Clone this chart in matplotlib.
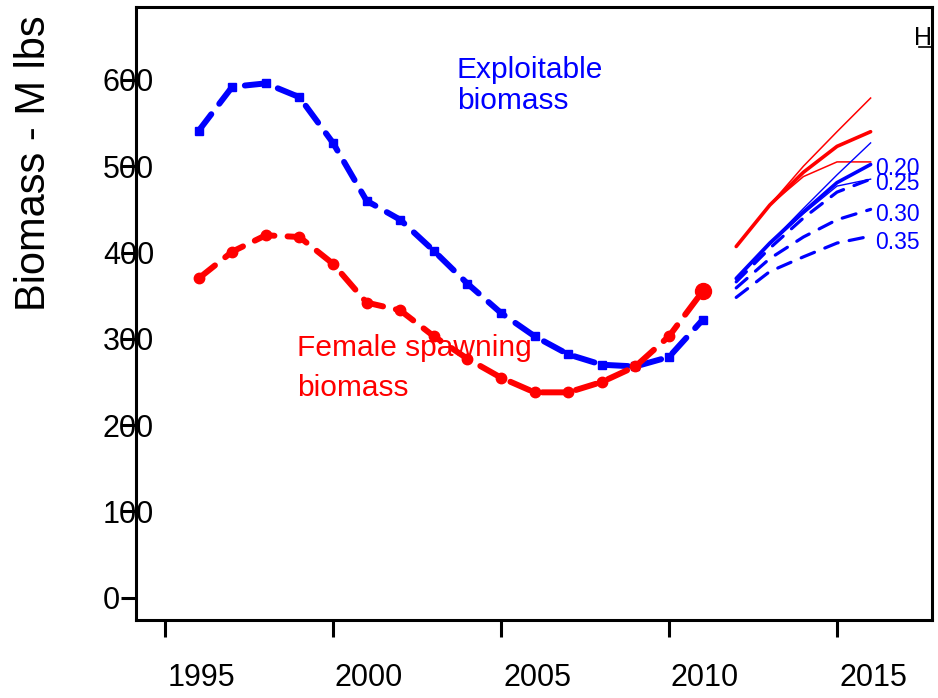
import matplotlib
matplotlib.use("Agg")
import matplotlib.pyplot as plt
from matplotlib.transforms import ScaledTranslation

plt.rcParams['font.family'] = ['Liberation Sans', 'DejaVu Sans']

# historical estimates
years = [1996, 1997, 1998, 1999, 2000, 2001, 2002, 2003, 2004, 2005,
         2006, 2007, 2008, 2009, 2010, 2011]
exploitable = [541, 592, 596, 580, 527, 460, 438, 402, 364, 330,
               303, 282, 270, 268, 279, 322]
female_ssb = [370, 401, 420, 418, 387, 342, 333, 303, 277, 255,
              238, 238, 250, 268, 303, 355]

# projections
proj_years = [2012, 2013, 2014, 2015, 2016]
red_thick = [407, 455, 493, 523, 540]
red_thin_hi = [407, 455, 500, 540, 579]
red_thin_lo = [407, 455, 488, 505, 505]
blue_thick = [370, 411, 447, 481, 502]
blue_thin_hi = [370, 411, 451, 490, 527]
blue_thin_lo = [368, 409, 445, 477, 485]
blue_dash_25 = [366, 405, 440, 470, 485]
blue_dash_30 = [359, 393, 418, 438, 450]
blue_dash_35 = [348, 378, 395, 411, 419]

rate_labels = ["0.20", "0.25", "0.30", "0.35"]
rate_ypos = [0.726, 0.701, 0.651, 0.605]

xticks = [1995, 2000, 2005, 2010, 2015]
yticks = [0, 100, 200, 300, 400, 500, 600]

fig = plt.figure(figsize=(9.38, 6.98), dpi=100)
ax = fig.add_axes([0.145, 0.1117, 0.8486, 0.8783])

# exploitable biomass
ax.plot(years, exploitable, color='blue', lw=4.3, dashes=(3.5, 2.2),
        dash_capstyle='round', marker='s', ms=6, mec='blue', mfc='blue',
        zorder=3)
# female spawning biomass (drawn over the blue one)
ax.plot(years, female_ssb, color='red', lw=4.3, dashes=(3.5, 2.2),
        dash_capstyle='round', marker='o', ms=7.5, mec='red', mfc='red',
        zorder=4)
ax.plot(years[-1], female_ssb[-1], 'o', color='red', ms=11.5, zorder=5)

# projections
ax.plot(proj_years, red_thin_hi, color='red', lw=1.1)
ax.plot(proj_years, red_thin_lo, color='red', lw=1.1)
ax.plot(proj_years, red_thick, color='red', lw=2.6, solid_capstyle='round')
ax.plot(proj_years, blue_thin_hi, color='blue', lw=1.0)
ax.plot(proj_years, blue_thin_lo, color='blue', lw=1.0)
ax.plot(proj_years, blue_thick, color='blue', lw=2.6, solid_capstyle='round')
for s in (blue_dash_25, blue_dash_30, blue_dash_35):
    ax.plot(proj_years, s, color='blue', lw=2.3, dashes=(4.5, 3.5),
            dash_capstyle='round')

for lab, yp in zip(rate_labels, rate_ypos):
    ax.text(0.928, yp, lab, transform=ax.transAxes, color='blue',
            fontsize=16.5, va='baseline', ha='left')

ax.text(0.403, 0.920, "Exploitable\nbiomass", transform=ax.transAxes,
        color='blue', fontsize=21.5, va='top', ha='left', linespacing=1.13)
ax.text(0.2023, 0.4665, "Female spawning\nbiomass", transform=ax.transAxes,
        color='red', fontsize=21.5, va='top', ha='left', linespacing=1.55)

ax.text(0.977, 0.938, "H", transform=ax.transAxes, color='black',
        fontsize=18, va='baseline', ha='left', clip_on=True)
ax.plot([0.984, 1.0], [0.934, 0.934], transform=ax.transAxes, color='black',
        lw=1.2, clip_on=True)

ax.set_xlim(1994.137, 2017.827)
ax.set_ylim(-25.8, 684.5)
ax.set_xticks(xticks)
ax.set_yticks(yticks)
ax.set_xticklabels([str(v) for v in xticks])
ax.set_yticklabels([str(v) for v in yticks])

for sp in ax.spines.values():
    sp.set_linewidth(2.2)
ax.tick_params(axis='x', direction='out', length=12, width=2.2, pad=19,
               labelsize=22)
ax.tick_params(axis='y', direction='out', length=11, width=2.2, pad=12.8,
               labelsize=22)

shift = ScaledTranslation(0.36, 0, fig.dpi_scale_trans)
for lab in ax.get_xticklabels():
    lab.set_transform(lab.get_transform() + shift)
for lab in ax.get_yticklabels():
    lab.set_horizontalalignment('left')

fig.text(0.048, 0.766, "Biomass - M lbs", fontsize=30, rotation=90,
         rotation_mode='anchor', ha='center', va='baseline')

fig.savefig("out.png", dpi=100)
